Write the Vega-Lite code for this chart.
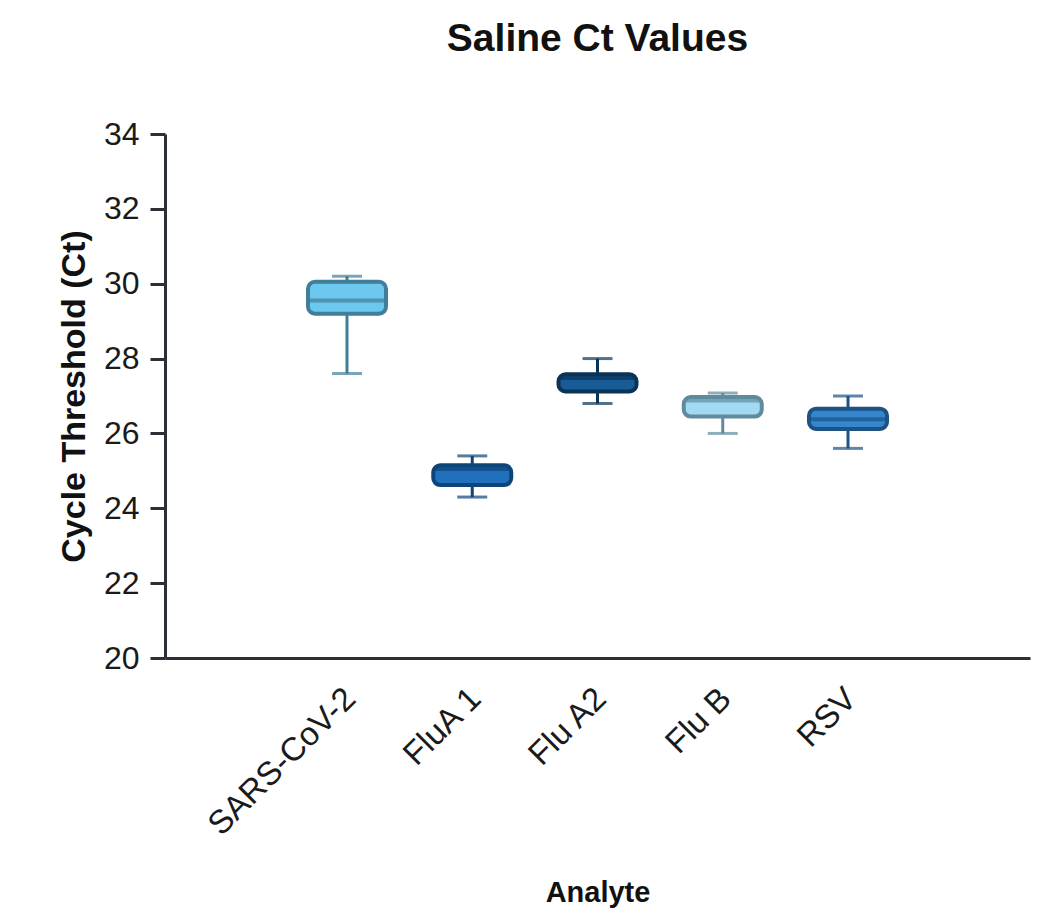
{
  "$schema": "https://vega.github.io/schema/vega-lite/v6.json",
  "autosize": {"type": "none"},
  "width": 865,
  "height": 524,
  "padding": {"left": 165, "top": 134, "right": 29, "bottom": 259},
  "background": "white",
  "title": {"text": "Saline Ct Values", "font": "Liberation Sans", "fontSize": 39, "fontWeight": "bold", "color": "#111111", "anchor": "middle", "offset": 59},
  "config": {
    "view": {"stroke": null},
    "font": "Liberation Sans"
  },
  "data": {
    "values": [
      {"analyte": "SARS-CoV-2", "min": 27.6, "q1": 29.2, "median": 29.55, "q3": 30.05, "max": 30.2},
      {"analyte": "FluA 1", "min": 24.3, "q1": 24.62, "median": 25.05, "q3": 25.15, "max": 25.4},
      {"analyte": "Flu A2", "min": 26.8, "q1": 27.12, "median": 27.48, "q3": 27.58, "max": 28.0},
      {"analyte": "Flu B", "min": 26.0, "q1": 26.45, "median": 26.88, "q3": 26.97, "max": 27.08},
      {"analyte": "RSV", "min": 25.6, "q1": 26.12, "median": 26.38, "q3": 26.66, "max": 27.0}
    ]
  },
  "encoding": {
    "x": {
      "field": "analyte", "type": "nominal", "sort": null,
      "scale": {"domain": ["SARS-CoV-2", "FluA 1", "Flu A2", "Flu B", "RSV"], "paddingInner": 0.094, "paddingOuter": 1},
      "axis": {
        "title": "Analyte", "titleFontSize": 29, "titleFontWeight": "bold", "titleColor": "#111111", "titlePadding": 37,
        "labelAngle": -45, "labelFontSize": 33, "labelColor": "#1a1a1a", "labelPadding": 24, "labelOffset": -8, "labelLimit": 0,
        "ticks": false, "domainWidth": 3, "domainColor": "#2b2f36", "grid": false
      }
    }
  },
  "layer": [
    {
      "mark": {"type": "rule", "strokeWidth": 3},
      "encoding": {
        "y": {"field": "min", "type": "quantitative",
          "scale": {"domain": [20, 34], "nice": false, "zero": false},
          "axis": {
            "title": "Cycle Threshold (Ct)", "titleFontSize": 34, "titleFontWeight": "bold", "titleColor": "#111111", "titlePadding": 12,
            "values": [20, 22, 24, 26, 28, 30, 32, 34], "labelFontSize": 32, "labelColor": "#1a1a1a", "labelPadding": 11,
            "tickSize": 15, "tickWidth": 3, "tickColor": "#2b2f36", "domainWidth": 3, "domainColor": "#2b2f36", "grid": false
          }
        },
        "y2": {"field": "max"},
        "stroke": {"field": "analyte", "type": "nominal", "legend": null,
          "scale": {"domain": ["SARS-CoV-2", "FluA 1", "Flu A2", "Flu B", "RSV"], "range": ["#417E99", "#0E4578", "#0A3457", "#5F8B9E", "#1D5282"]}}
      }
    },
    {
      "mark": {"type": "tick", "size": 30, "thickness": 3},
      "encoding": {
        "y": {"field": "min", "type": "quantitative"},
        "color": {"field": "analyte", "type": "nominal", "legend": null,
          "scale": {"domain": ["SARS-CoV-2", "FluA 1", "Flu A2", "Flu B", "RSV"], "range": ["#417E99", "#0E4578", "#0A3457", "#5F8B9E", "#1D5282"]}}
      }
    },
    {
      "mark": {"type": "tick", "size": 30, "thickness": 3},
      "encoding": {
        "y": {"field": "max", "type": "quantitative"},
        "color": {"field": "analyte", "type": "nominal", "legend": null}
      }
    },
    {
      "mark": {"type": "bar", "size": 78, "cornerRadius": 7, "strokeWidth": 4},
      "encoding": {
        "y": {"field": "q1", "type": "quantitative"},
        "y2": {"field": "q3"},
        "fill": {"field": "analyte", "type": "nominal", "legend": null,
          "scale": {"domain": ["SARS-CoV-2", "FluA 1", "Flu A2", "Flu B", "RSV"], "range": ["#6CC8EE", "#2170BD", "#175B97", "#A2DAF4", "#3487CE"]}},
        "stroke": {"field": "analyte", "type": "nominal", "legend": null}
      }
    },
    {
      "mark": {"type": "tick", "size": 76, "thickness": 4},
      "encoding": {
        "y": {"field": "median", "type": "quantitative"},
        "color": {"field": "analyte", "type": "nominal", "legend": null}
      }
    }
  ]
}
